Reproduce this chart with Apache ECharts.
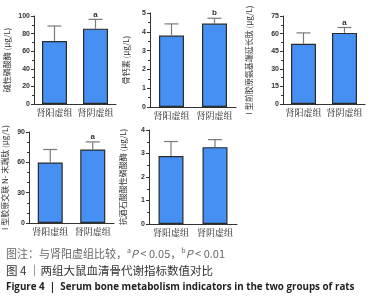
<!DOCTYPE html>
<html><head><meta charset="utf-8">
<script src="https://cdn.jsdelivr.net/npm/echarts@6/dist/echarts.min.js"></script>
<style>html,body{margin:0;padding:0;background:#fff}#c{width:375px;height:300px}</style>
</head><body><div id="c"></div>
<script>
var categories = ['肾阳虚组', '肾阴虚组'];
var alpMean = [71.6, 85.6];
var alpSD = [17.0, 10.6];
var alpSig = ['', 'a'];
var ocnMean = [3.80, 4.44];
var ocnSD = [0.62, 0.28];
var ocnSig = ['', 'b'];
var p1npMean = [51.3, 60.6];
var p1npSD = [9.3, 4.6];
var p1npSig = ['', 'a'];
var ntxMean = [59.9, 72.7];
var ntxSD = [12.8, 7.5];
var ntxSig = ['', 'a'];
var trapMean = [2.89, 3.27];
var trapSD = [0.62, 0.32];
var trapSig = ['', ''];
var yNames = ['碱性磷酸酶 (μg/L)', '骨钙素 (μg/L)', 'I 型前胶原氨基端延长肽 (μg/L)', 'I 型胶原交联 N- 末端肽 (μg/L)', '抗酒石酸酸性磷酸酶 (μg/L)'];
var yMax = [100, 5, 75, 90, 4];
var yInterval = [20, 1, 15, 30, 1];
var yMinorSplit = [2, 2, 2, 3, 2];
var captionNote = '图注：与肾阳虚组比较，';
var captionTitleCn = '图 4 ｜两组大鼠血清骨代谢指标数值对比';
var captionTitleEn = 'Figure 4  |  Serum bone metabolism indicators in the two groups of rats';

var panels = [
  {mean: alpMean, sd: alpSD, sig: alpSig},
  {mean: ocnMean, sd: ocnSD, sig: ocnSig},
  {mean: p1npMean, sd: p1npSD, sig: p1npSig},
  {mean: ntxMean, sd: ntxSD, sig: ntxSig},
  {mean: trapMean, sd: trapSD, sig: trapSig}
];
var grids = [
  {left: 34, top: 16, width: 82, height: 88},
  {left: 150, top: 13, width: 86, height: 94},
  {left: 283, top: 16, width: 82, height: 88},
  {left: 28, top: 132, width: 86, height: 91},
  {left: 149, top: 130, width: 88, height: 94}
];
var nameGaps = [23, 20, 30, 20, 22];
var FONT = '"Noto Sans CJK SC", "Noto Sans", sans-serif';
var axisCol = '#333';

var option = {
  animation: false,
  grid: grids,
  xAxis: [], yAxis: [], series: [],
  graphic: [
    {type: 'text', left: 6, top: 247, style: {
      rich: {
        n: {fontSize: 11, fill: '#666', fontFamily: FONT},
        s: {fontSize: 7, fill: '#666', fontFamily: FONT, verticalAlign: 'top', padding: [0,0,6,0]},
        p: {fontSize: 11, fill: '#666', fontFamily: FONT, fontStyle: 'italic'}
      },
      text: '{n|' + captionNote + '}{s|a}{p|P}{n| < 0.05，}{s|b}{p|P}{n| < 0.01}'
    }},
    {type: 'text', left: 6, top: 265, style: {text: captionTitleCn, fontSize: 11.5, fill: '#333', fontFamily: FONT}},
    {type: 'text', left: 6, top: 282, style: {text: captionTitleEn, fontSize: 9.8, fontWeight: 'bold', fill: '#222', fontFamily: '"Open Sans", "Noto Sans", sans-serif'}}
  ]
};

panels.forEach(function (p, k) {
  option.xAxis.push({
    type: 'category', gridIndex: k, data: categories,
    axisLine: {lineStyle: {color: axisCol, width: 1}},
    axisTick: {alignWithLabel: true, length: 3, lineStyle: {color: axisCol}},
    axisLabel: {interval: 0, fontSize: 9, color: '#222', margin: 4, fontFamily: '"Noto Serif CJK SC", "Noto Sans CJK SC", serif'}
  });
  option.yAxis.push({
    type: 'value', gridIndex: k, min: 0, max: yMax[k], interval: yInterval[k],
    name: yNames[k], nameLocation: 'middle', nameRotate: 90, nameGap: nameGaps[k],
    nameTextStyle: {fontSize: 8, color: '#333', fontFamily: FONT},
    axisLine: {show: true, lineStyle: {color: axisCol, width: 1}},
    axisTick: {show: true, length: 3, lineStyle: {color: axisCol}},
    minorTick: {show: true, splitNumber: yMinorSplit[k], length: 2, lineStyle: {color: axisCol}},
    splitLine: {show: false},
    axisLabel: {fontSize: 7, fontWeight: 'bold', color: '#333', margin: 4, fontFamily: '"Liberation Sans", Arial, sans-serif'}
  });
  option.series.push({
    type: 'bar', xAxisIndex: k, yAxisIndex: k, data: p.mean, barWidth: 25,
    itemStyle: {color: '#4690f4', borderColor: '#2b2b2b', borderWidth: 1.2}, z: 2
  });
  option.series.push({
    type: 'custom', xAxisIndex: k, yAxisIndex: k, z: 3,
    data: p.mean.map(function (m, i) { return [i, m, m + p.sd[i]]; }),
    renderItem: function (params, api) {
      var i = api.value(0);
      var b = api.coord([i, api.value(1)]);
      var t = api.coord([i, api.value(2)]);
      var hw = 7;
      var st = {stroke: '#7a7a7a', lineWidth: 1.2};
      var children = [
        {type: 'line', shape: {x1: b[0], y1: b[1], x2: t[0], y2: t[1]}, style: st},
        {type: 'line', shape: {x1: t[0] - hw, y1: t[1], x2: t[0] + hw, y2: t[1]}, style: st}
      ];
      var s = p.sig[params.dataIndex];
      if (s) {
        children.push({type: 'text', style: {text: s, x: t[0], y: t[1] - 1, textAlign: 'center', textVerticalAlign: 'bottom', fontSize: 8, fontWeight: 'bold', fill: '#333', fontFamily: 'Liberation Sans, sans-serif'}});
      }
      return {type: 'group', children: children};
    }
  });
});

var chart = echarts.init(document.getElementById('c'), null, {renderer: 'canvas'});
chart.setOption(option);
</script>
</body></html>
